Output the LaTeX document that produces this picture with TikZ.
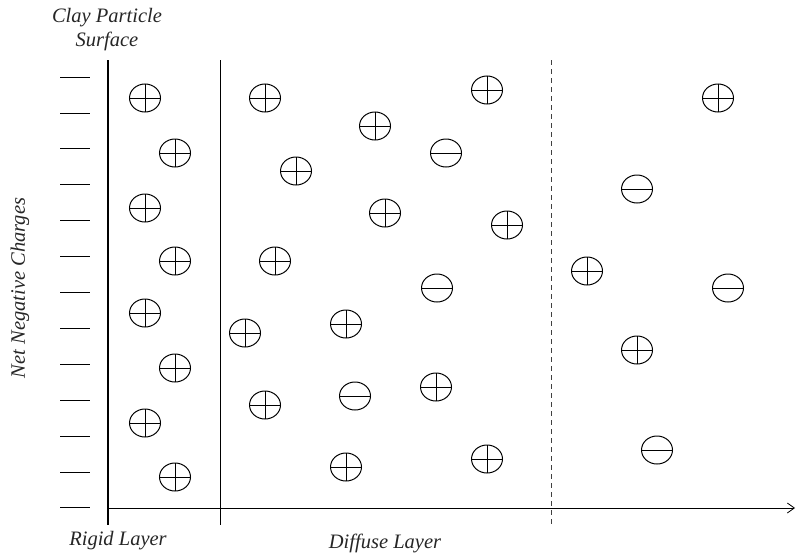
\documentclass[tikz,border=0pt]{standalone}
\usepackage{fontspec}
\setmainfont{Liberation Serif}
\usetikzlibrary{shapes.geometric,arrows.meta}
\tikzset{
  ion/.style={ellipse,draw,line width=1pt,minimum width=31pt,minimum height=28pt,inner sep=0pt},
  cation/.style={ion,path picture={\draw[line width=1pt]
      (path picture bounding box.north)--(path picture bounding box.south)
      (path picture bounding box.west)--(path picture bounding box.east);}},
  anion/.style={ion,path picture={\draw[line width=1pt]
      (path picture bounding box.west)--(path picture bounding box.east);}},
  lbl/.style={font=\fontsize{20.5}{24}\selectfont\itshape,text=black!85}
}
\begin{document}
\begin{tikzpicture}[x=1pt,y=-1pt,>={Straight Barb[length=7pt,width=10pt]}]
\useasboundingbox (0,0) rectangle (797,554);
% axes and layer boundaries
\coordinate (surftop) at (108,60);
\coordinate (surfbot) at (108,525);
\coordinate (o) at (108,508);
\coordinate (xend) at (795,508);
\draw[line width=2.6pt](surftop)--(surfbot);
\draw[line width=0.8pt,->](o)--(xend);
\draw[line width=0.8pt](220,60)--(220,525);
\draw[line width=0.9pt,dashed,dash pattern=on 5pt off 4pt,black!75](551,60)--(551,525);
% negative charges on the surface
\foreach \k in {0,...,12}
  \draw[line width=0.8pt](60,{77+35.9*\k})--(90,{77+35.9*\k});
% ions
\foreach \x/\y/\s [count=\i] in {
  145/98/cation,175/153/cation,145/208/cation,175/261/cation,
  145/313/cation,175/368/cation,145/423/cation,175/477/cation,
  265/98/cation,375/126/cation,487/90/cation,446/153/anion,
  296/171/cation,385/213/cation,507/225/cation,637/189/anion,
  718/98/cation,275/261/cation,437/288/anion,587/271/cation,
  728/288/anion,245/333/cation,346/324/cation,637/350/cation,
  265/405/cation,355/396/anion,436/387/cation,657/450/anion,
  346/467/cation,487/459/cation}
  \node[\s] (ion\i) at (\x,\y) {};
% labels
\node[lbl,align=center] (surf) at (107,30) {Clay Particle\\Surface};
\node[lbl] (rigid) at (118,541) {Rigid Layer};
\node[lbl] (diffuse) at (385,543) {Diffuse Layer};
\node[lbl,rotate=90] (charges) at (20,288) {Net Negative Charges};
\end{tikzpicture}
\end{document}
